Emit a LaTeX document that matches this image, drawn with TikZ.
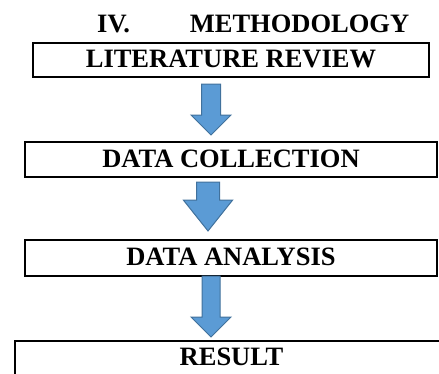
\documentclass[tikz,border=0pt]{standalone}
\usepackage{fontspec}
\setmainfont{Liberation Serif}
\usetikzlibrary{shapes.arrows}
\definecolor{arrowblue}{RGB}{91,155,213}
\definecolor{arrowedge}{RGB}{65,113,156}
\tikzstyle{heading} = [anchor=base west, inner sep=0pt, font=\bfseries\fontsize{26.5}{30}\selectfont]
\tikzstyle{stage} = [rectangle, draw=black, line width=2pt, text centered, text height=18pt, text depth=2.5pt, inner sep=0pt, font=\bfseries\fontsize{26.5}{30}\selectfont]
\tikzstyle{flow} = [single arrow, rotate=-90, anchor=tail, draw=arrowedge, fill=arrowblue, line width=1pt, inner sep=0pt, outer sep=0pt]

\begin{document}
\begin{tikzpicture}[x=1pt, y=-1pt]
\useasboundingbox (0,0) rectangle (439,373);

\node (title) [heading] at (97,32) {IV.\hspace{60pt}METHODOLOGY};

\node (lit) [stage, minimum width=396pt, minimum height=34pt] at (231,60) {LITERATURE REVIEW};
\node (coll) [stage, minimum width=412pt, minimum height=35pt] at (231,159.5) {DATA COLLECTION};
\node (anal) [stage, minimum width=412pt, minimum height=36pt] at (231,258) {DATA ANALYSIS};
\node (res) [stage, minimum width=433pt, minimum height=40pt, text depth=10pt] at (231.5,361) {RESULT};

% Arrows
\node (arr1) [flow, minimum height=51pt, inner ysep=9pt, single arrow head extend=10.5pt] at (211,84) {};
\node (arr2) [flow, minimum height=49pt, inner ysep=11pt, single arrow head extend=13pt, single arrow tip angle=77] at (208,182) {};
\node (arr3) [flow, minimum height=61pt, inner ysep=8.5pt, single arrow head extend=11pt] at (211,276) {};

\end{tikzpicture}
\end{document}
